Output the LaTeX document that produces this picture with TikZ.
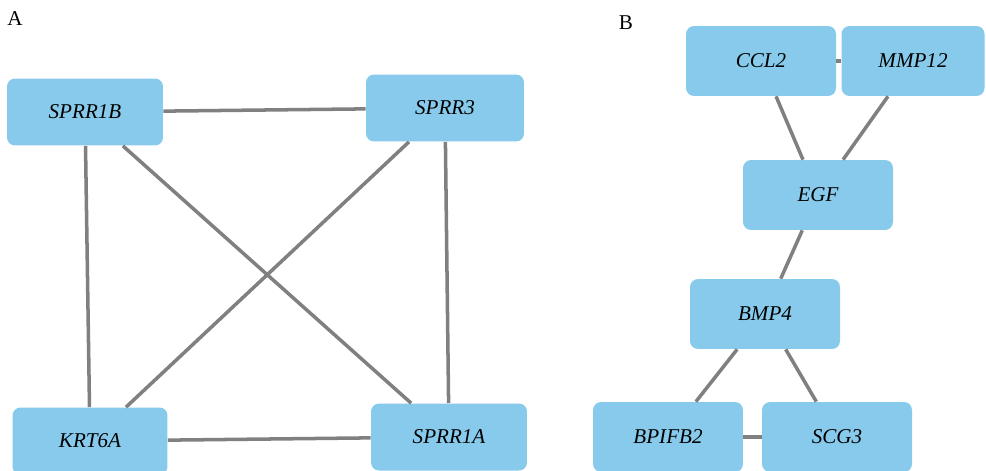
\documentclass[tikz,border=0pt]{standalone}
\usepackage{fontspec}
\setmainfont{Liberation Serif}
\usetikzlibrary{positioning}
\definecolor{Box}{HTML}{87CAEB}
\definecolor{Edge}{HTML}{808080}
\tikzset{
    gene/.style={rectangle, rounded corners=0.16cm, fill=Box, text=black, minimum width=3cm, minimum height=1.4cm, inner sep=0pt, font=\itshape\fontsize{12}{14}\selectfont},
    link/.style={draw=Edge, line width=2pt},
    panel/.style={font=\fontsize{12}{14}\selectfont},
}

\begin{document}
\begin{tikzpicture}[x=0.02cm, y=-0.02cm]
    \clip (0,0) rectangle (986,470);

    % Panel A
    \node[panel] (labA) at (15,19) {A};
    \node[gene, minimum width=3.12cm, minimum height=1.34cm] (sprr1b) at (85,112) {SPRR1B};
    \node[gene, minimum width=3.16cm, minimum height=1.34cm] (sprr3) at (445,108) {SPRR3};
    \node[gene, minimum width=3.1cm, minimum height=1.34cm] (krt6a) at (90,441) {KRT6A};
    \node[gene, minimum width=3.12cm, minimum height=1.34cm] (sprr1a) at (449,437) {SPRR1A};

    \draw[link] (sprr1b) -- (sprr3);
    \draw[link] (sprr1b) -- (krt6a);
    \draw[link] (sprr1b) -- (sprr1a);
    \draw[link] (sprr3) -- (krt6a);
    \draw[link] (sprr3) -- (sprr1a);
    \draw[link] (krt6a) -- (sprr1a);

    % Panel B
    \node[panel] (labB) at (626,23) {B};
    \node[gene] (ccl2) at (761,61) {CCL2};
    \node[gene, minimum width=2.86cm] (mmp12) at (913,61) {MMP12};
    \node[gene] (egf) at (818,195) {EGF};
    \node[gene] (bmp4) at (765,314) {BMP4};
    \node[gene] (bpifb2) at (668,437) {BPIFB2};
    \node[gene] (scg3) at (837,437) {SCG3};

    \draw[link] (ccl2) -- (mmp12);
    \draw[link] (ccl2) -- (egf);
    \draw[link] (mmp12) -- (egf);
    \draw[link] (egf) -- (bmp4);
    \draw[link] (bmp4) -- (bpifb2);
    \draw[link] (bmp4) -- (scg3);
    \draw[link] (bpifb2) -- (scg3);
\end{tikzpicture}
\end{document}
